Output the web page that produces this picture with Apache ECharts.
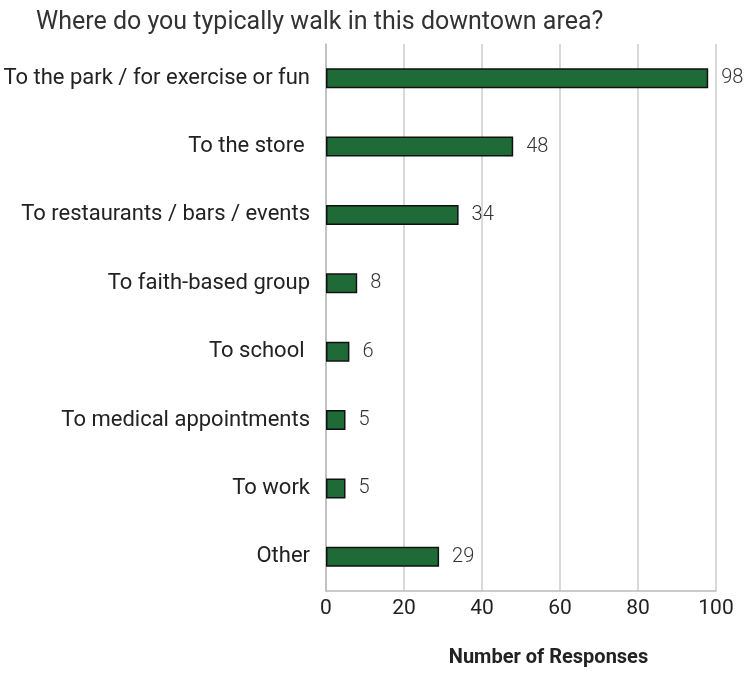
<!DOCTYPE html>
<html>
<head>
<meta charset="utf-8">
<script src="https://cdn.jsdelivr.net/npm/echarts@6/dist/echarts.min.js"></script>
<style>
  html, body { margin: 0; padding: 0; background: #fff; }
  #chart { width: 744px; height: 673px; }
</style>
</head>
<body>
<div id="chart"></div>
<script>
// categories top to bottom
const categories = [
  'To the park / for exercise or fun',
  'To the store ',
  'To restaurants / bars / events',
  'To faith-based group',
  'To school ',
  'To medical appointments',
  'To work',
  'Other'
]
const responses = [98, 48, 34, 8, 6, 5, 5, 29]
const xTicks = [0, 20, 40, 60, 80, 100]

const myChart = echarts.init(document.getElementById('chart'))
const option = {
  animation: false,
  title: {
    text: 'Where do you typically walk in this downtown area?',
    left: 31,
    top: 5,
    textStyle: {
      fontFamily: 'Roboto',
      fontSize: 25,
      fontWeight: 'normal',
      color: '#333'
    }
  },
  grid: {
    left: 326,
    right: 28,
    top: 44,
    bottom: 79,
    containLabel: false
  },
  xAxis: {
    type: 'value',
    min: xTicks[0],
    max: xTicks[xTicks.length - 1],
    interval: 20,
    name: 'Number of Responses',
    nameLocation: 'middle',
    nameGap: 57,
    nameTextStyle: {
      fontFamily: 'Roboto',
      fontSize: 20,
      fontWeight: 'bold',
      color: '#222',
      padding: [0, 0, 0, 55]
    },
    axisLine: { show: true, lineStyle: { color: '#bbb', width: 1.5 } },
    axisTick: { show: false },
    axisLabel: {
      fontFamily: 'Roboto',
      fontSize: 21,
      color: '#222',
      margin: 7
    },
    splitLine: { show: true, lineStyle: { color: '#ccc', width: 1.5 } }
  },
  yAxis: {
    type: 'category',
    inverse: true,
    data: categories,
    axisLine: { show: true, lineStyle: { color: '#bbb', width: 1.5 } },
    axisTick: { show: false },
    axisLabel: {
      fontFamily: 'Roboto',
      fontSize: 22,
      color: '#222',
      margin: 16
    }
  },
  series: [
    {
      type: 'bar',
      data: responses,
      barWidth: 20,
      itemStyle: {
        color: '#1f6b37',
        borderColor: '#111',
        borderWidth: 1.5
      },
      label: {
        show: true,
        position: 'right',
        distance: 13,
        fontFamily: 'Roboto',
        fontSize: 20,
        fontWeight: 300,
        color: '#333'
      }
    }
  ]
}
myChart.setOption(option)
</script>
</body>
</html>
